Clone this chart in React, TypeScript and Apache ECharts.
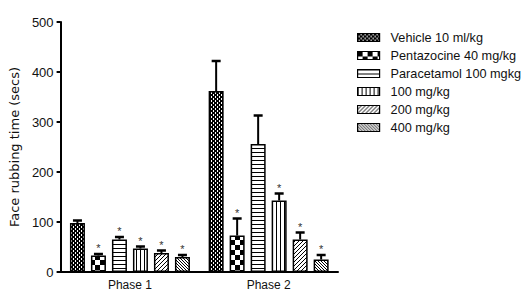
import React, { useEffect, useRef } from "react";
import * as echarts from "echarts";

const categories = ["Phase 1", "Phase 2"];
const seriesNames = [
  "Vehicle 10 ml/kg",
  "Pentazocine 40 mg/kg",
  "Paracetamol 100 mgkg",
  "100 mg/kg",
  "200 mg/kg",
  "400 mg/kg",
];
const vehicle = [98, 362];
const pentazocine = [33, 73];
const paracetamol = [65, 256];
const dose100 = [47, 143];
const dose200 = [38, 65];
const dose400 = [30, 25];
const vehicleErr = [5, 60];
const pentazocineErr = [3, 34];
const paracetamolErr = [5, 57];
const dose100Err = [4, 14];
const dose200Err = [5, 14];
const dose400Err = [4, 9];
const stars = [
  [false, false],
  [true, true],
  [true, false],
  [true, true],
  [true, true],
  [true, true],
];
const yTicks = [0, 100, 200, 300, 400, 500];

const values = [vehicle, pentazocine, paracetamol, dose100, dose200, dose400];
const errors = [vehicleErr, pentazocineErr, paracetamolErr, dose100Err, dose200Err, dose400Err];

const BAR_W = 15;
const BAR_GAP = 6;

function makePattern(w: number, h: number, draw: (ctx: CanvasRenderingContext2D) => void) {
  const c = document.createElement("canvas");
  c.width = w;
  c.height = h;
  const ctx = c.getContext("2d") as CanvasRenderingContext2D;
  ctx.fillStyle = "#fff";
  ctx.fillRect(0, 0, w, h);
  ctx.fillStyle = "#000";
  draw(ctx);
  return { image: c, repeat: "repeat" };
}

function patterns() {
  return [
    makePattern(4, 4, (ctx) => {
      for (let x = 0; x < 4; x++)
        for (let y = 0; y < 4; y++)
          if (((x >> 1) + (y >> 1)) % 2 === 0 || x % 2 === 0) ctx.fillRect(x, y, 1, 1);
    }),
    makePattern(10, 10, (ctx) => {
      ctx.fillRect(0, 0, 5, 5);
      ctx.fillRect(5, 5, 5, 5);
    }),
    makePattern(4, 4, (ctx) => {
      ctx.fillRect(0, 0, 4, 1);
    }),
    makePattern(4, 4, (ctx) => {
      ctx.fillRect(0, 0, 1, 4);
    }),
    makePattern(4, 4, (ctx) => {
      for (let x = 0; x < 4; x++) ctx.fillRect(x, 3 - x, 1, 1);
    }),
    makePattern(3, 3, (ctx) => {
      for (let x = 0; x < 3; x++) ctx.fillRect(x, x, 1, 1);
    }),
  ];
}

export default function App() {
  const ref = useRef<HTMLDivElement>(null);
  useEffect(() => {
    if (!ref.current) return;
    const chart = echarts.init(ref.current, null, { renderer: "svg" });
    const pats = patterns();
    const errData: any[] = [];
    values.forEach((vals, s) => {
      vals.forEach((v, c) => {
        errData.push([c, v, errors[s][c], stars[s][c] ? 1 : 0, s]);
      });
    });
    const barSeries = seriesNames.map((name, i) => ({
      name,
      type: "bar",
      data: values[i],
      barWidth: BAR_W,
      barGap: (BAR_GAP / BAR_W) * 100 + "%",
      itemStyle: { color: pats[i], borderColor: "#000", borderWidth: 1.5 },
      z: 2,
    }));
    chart.setOption({
      animation: false,
      backgroundColor: "#fff",
      grid: { left: 58, right: 188, top: 22, bottom: 25 },
      legend: {
        orient: "vertical",
        left: 352,
        top: 26,
        itemWidth: 22,
        itemHeight: 8,
        itemGap: 5,
        icon: "rect",
        selectedMode: false,
        itemStyle: { borderColor: "#000", borderWidth: 1.2 },
        textStyle: { fontFamily: "Liberation Sans", fontSize: 12.7, color: "#111", padding: [0, 0, 0, 6] },
        data: seriesNames,
      },
      xAxis: {
        type: "category",
        data: categories,
        axisLine: { lineStyle: { color: "#000", width: 2 } },
        axisTick: { alignWithLabel: true, length: 5, lineStyle: { color: "#000", width: 1.5 } },
        axisLabel: { fontFamily: "Liberation Sans", fontSize: 12, color: "#111", margin: 7 },
      },
      yAxis: {
        type: "value",
        min: yTicks[0],
        max: yTicks[yTicks.length - 1],
        interval: 100,
        name: "Face rubbing time (secs)",
        nameLocation: "middle",
        nameGap: 35,
        nameTextStyle: { fontFamily: "DejaVu Sans", fontSize: 13, color: "#111" },
        axisLine: { show: true, lineStyle: { color: "#000", width: 2 } },
        axisTick: { show: true, length: 4, lineStyle: { color: "#000", width: 2 } },
        axisLabel: { fontFamily: "Liberation Sans", fontSize: 13, color: "#111", margin: 7 },
        splitLine: { show: false },
      },
      series: [
        ...barSeries,
        {
          type: "custom",
          z: 5,
          silent: true,
          itemStyle: { color: "#000" },
          encode: { x: 0, y: 1 },
          data: errData,
          renderItem: (params: any, api: any) => {
            const c = api.value(0);
            const v = api.value(1);
            const e = api.value(2);
            const st = api.value(3);
            const s = api.value(4);
            const base = api.coord([c, v]);
            const top = api.coord([c, v + e]);
            const x = base[0] + (s - 2.5) * (BAR_W + BAR_GAP);
            const children: any[] = [
              { type: "line", shape: { x1: x, y1: base[1], x2: x, y2: top[1] }, style: { stroke: "#000", lineWidth: 2 } },
              { type: "line", shape: { x1: x - 4.5, y1: top[1], x2: x + 4.5, y2: top[1] }, style: { stroke: "#000", lineWidth: 2.5 } },
            ];
            if (st) {
              children.push({
                type: "text",
                style: {
                  text: "*",
                  x: x,
                  y: top[1] - 6,
                  align: "center",
                  verticalAlign: "middle",
                  font: "11px Liberation Sans",
                  fill: "#333",
                },
              });
            }
            return { type: "group", children };
          },
        },
      ],
    });
    return () => chart.dispose();
  }, []);
  return <div ref={ref} style={{ position: "absolute", left: 0, top: 0, width: 526, height: 297 }} />;
}
